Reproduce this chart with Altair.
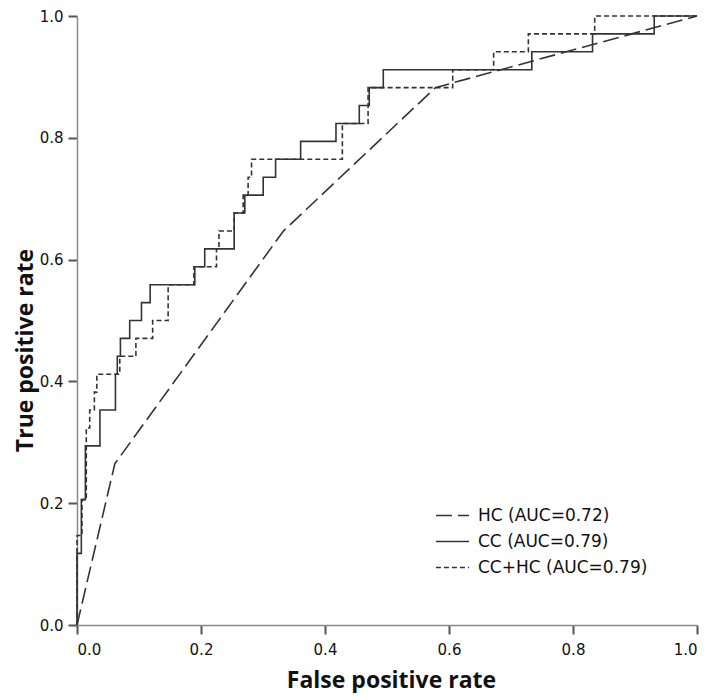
import altair as alt
import pandas as pd

N_POS = 34.0

# HC: ROC vertices (linear)
hc_fpr = [0.0, 0.061, 0.333, 0.578, 1.0]
hc_tp = [0, 9, 22, 30, 34]

# CC: ROC staircase (level reached, x where the level ends)
cc_fpr = [0.0, 0.007, 0.0135, 0.037, 0.062, 0.065, 0.070, 0.085, 0.104, 0.118,
          0.19, 0.206, 0.2535, 0.2707, 0.3003, 0.3203, 0.3607, 0.4177, 0.4553,
          0.4714, 0.494, 0.7336, 0.8315, 0.931, 1.0]
cc_tp = [0, 4, 7, 10, 12, 14, 15, 16, 17, 18, 19, 20, 21, 23, 24, 25, 26, 27, 28,
         29, 30, 31, 32, 33, 34]

# CC+HC: ROC staircase
cchc_fpr = [0.0, 0.008, 0.015, 0.0205, 0.028, 0.032, 0.069, 0.095, 0.122, 0.147,
            0.1886, 0.225, 0.229, 0.2535, 0.268, 0.276, 0.2815, 0.428, 0.4695,
            0.606, 0.672, 0.728, 0.835, 1.0]
cchc_tp = [0, 5, 7, 11, 12, 13, 14, 15, 16, 17, 19, 20, 21, 22, 23, 24, 25, 26,
           28, 30, 31, 32, 33, 34]

series_names = ["HC (AUC=0.72)", "CC (AUC=0.79)", "CC+HC (AUC=0.79)"]
dash_styles = [[16, 6], [1, 0], [5, 3]]

hc = pd.DataFrame({"fpr": hc_fpr, "tpr": [v / N_POS for v in hc_tp],
                   "series": series_names[0], "order": range(len(hc_fpr))})
cc = pd.DataFrame({"fpr": cc_fpr, "tpr": [v / N_POS for v in cc_tp],
                   "series": series_names[1], "order": range(len(cc_fpr))})
cchc = pd.DataFrame({"fpr": cchc_fpr, "tpr": [v / N_POS for v in cchc_tp],
                     "series": series_names[2], "order": range(len(cchc_fpr))})

x_enc = alt.X("fpr:Q", scale=alt.Scale(domain=[0, 1], nice=False, zero=False),
              axis=alt.Axis(title="False positive rate", values=[0, 0.2, 0.4, 0.6, 0.8, 1.0],
                            format=".1f", titleY=55, titleX=314, titleBaseline="middle"))
y_enc = alt.Y("tpr:Q", scale=alt.Scale(domain=[0, 1], nice=False, zero=False),
              axis=alt.Axis(title="True positive rate", values=[0, 0.2, 0.4, 0.6, 0.8, 1.0],
                            format=".1f", titleX=-52, titleY=334, titleBaseline="middle"))
dash_enc = alt.StrokeDash(
    "series:N",
    scale=alt.Scale(domain=series_names, range=dash_styles),
    legend=alt.Legend(title=None, orient="none", legendX=358, legendY=482,
                      symbolType="stroke", symbolSize=1100, symbolStrokeWidth=1.6,
                      symbolStrokeColor="#333", labelFontSize=17,
                      labelFont="DejaVu Sans", labelColor="#111", labelLimit=400,
                      rowPadding=-11, labelOffset=8, symbolOffset=0),
)

base_style = dict(color="#333333", strokeWidth=1.6)

hc_layer = alt.Chart(hc).mark_line(interpolate="linear", **base_style).encode(
    x=x_enc, y=y_enc, strokeDash=dash_enc, order="order:Q")
step_layer = alt.Chart(pd.concat([cc, cchc])).mark_line(
    interpolate="step-before", **base_style).encode(
    x=x_enc, y=y_enc, strokeDash=dash_enc, detail="series:N", order="order:Q")

chart = alt.layer(hc_layer, step_layer).properties(
    width=620, height=609,
    autosize=alt.AutoSizeParams(type="none"),
    padding={"left": 69, "top": 8, "right": 6, "bottom": 68},
).configure_view(stroke=None).configure_axis(
    grid=False, domainColor="#8a8a8a", domainWidth=1.5,
    tickColor="#555555", tickWidth=2, tickSize=9,
    labelFont="DejaVu Sans", labelFontSize=15, labelColor="#111",
    titleFont="Open Sans", titleFontSize=23, titleFontWeight="bold", titleColor="#111",
    labelPadding=6,
).configure_axisX(labelPadding=8).configure_axisY(labelPadding=5)

chart.save("out.html", embed_options={"renderer": "svg", "actions": False})
